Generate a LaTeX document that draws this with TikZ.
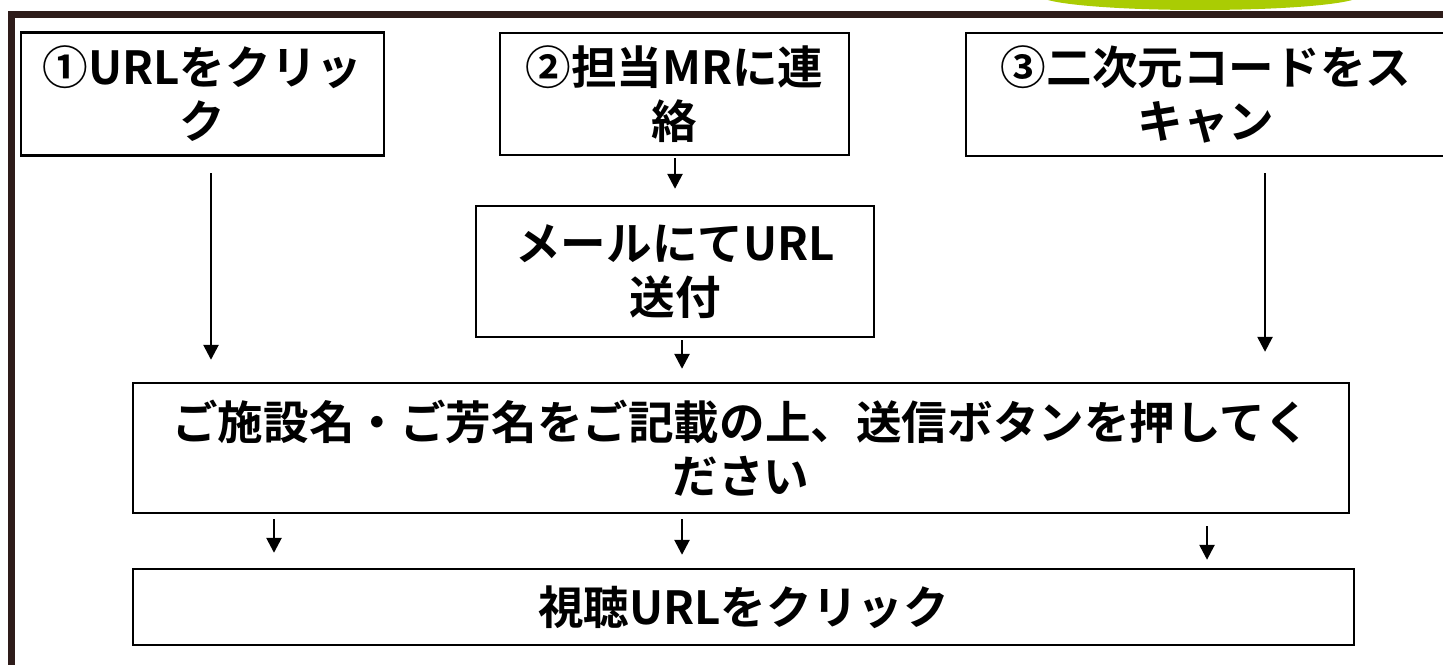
\documentclass[tikz,border=0pt]{standalone}
\usepackage{fontspec}
\newfontfamily\jpfont{Noto Sans CJK JP}[UprightFont=* Bold]
\usetikzlibrary{arrows.meta}
\definecolor{framebrown}{HTML}{2E1C1A}
\definecolor{leafgreen}{HTML}{AACC03}
\tikzset{
  stepbox/.style={draw, line width=1.2pt, align=center, inner sep=0pt,
    font=\jpfont\fontsize{22.8}{27}\selectfont},
  flow/.style={-{Triangle[width=7.5pt,length=7.5pt]}, line width=1.3pt},
}
\begin{document}
\begin{tikzpicture}[x=0.5pt,y=-0.5pt]
	\clip (0,0) rectangle (1443,664);
	% frame and green tab
	\fill[leafgreen] (1200,-4.5) ellipse [x radius=80pt, y radius=7.25pt];
	\draw[framebrown, line width=3.5pt] (11.5,700) |- (1500,14);
	% set up nodes
	\node[stepbox, minimum width=181.5pt, minimum height=61.5pt] (click) at (202.5,94) {①URLをクリッ\\ク};
	\node[stepbox, minimum width=174.5pt, minimum height=61pt] (contact) at (674.5,94) {②担当MRに連\\絡};
	\node[stepbox, minimum width=240pt, minimum height=61.5pt] (scan) at (1206,94.5) {③二次元コードをス\\キャン};
	\node[stepbox, minimum width=199pt, minimum height=65.5pt] (mail) at (675,271.5) {メールにてURL\\送付};
	\node[stepbox, minimum width=608pt, minimum height=65pt] (form) at (741,448) {ご施設名・ご芳名をご記載の上、送信ボタンを押してく\\ださい};
	\node[stepbox, minimum width=610.5pt, minimum height=38pt] (watch) at (743.5,607) {視聴URLをクリック};
	% arrow columns
	\coordinate (c1) at (211,0);
	\coordinate (c2) at (675,0);
	\coordinate (c3) at (682,0);
	\coordinate (c4) at (1265,0);
	\coordinate (c5) at (274,0);
	\coordinate (c6) at (1207,0);
	% connect them
	\draw[flow, shorten <=8.25pt, shorten >=11pt] (click.south -| c1) -- (form.north -| c1);
	\draw[flow, shorten <=1pt, shorten >=8pt] (contact.south -| c2) -- (mail.north -| c2);
	\draw[flow, shorten <=1pt, shorten >=6.5pt] (mail.south -| c3) -- (form.north -| c3);
	\draw[flow, shorten <=8pt, shorten >=15pt] (scan.south -| c4) -- (form.north -| c4);
	\draw[flow, shorten <=2.5pt, shorten >=7.5pt] (form.south -| c5) -- (watch.north -| c5);
	\draw[flow, shorten <=2.5pt, shorten >=6.5pt] (form.south -| c3) -- (watch.north -| c3);
	\draw[flow, shorten <=6pt, shorten >=4pt] (form.south -| c6) -- (watch.north -| c6);
\end{tikzpicture}
\end{document}
